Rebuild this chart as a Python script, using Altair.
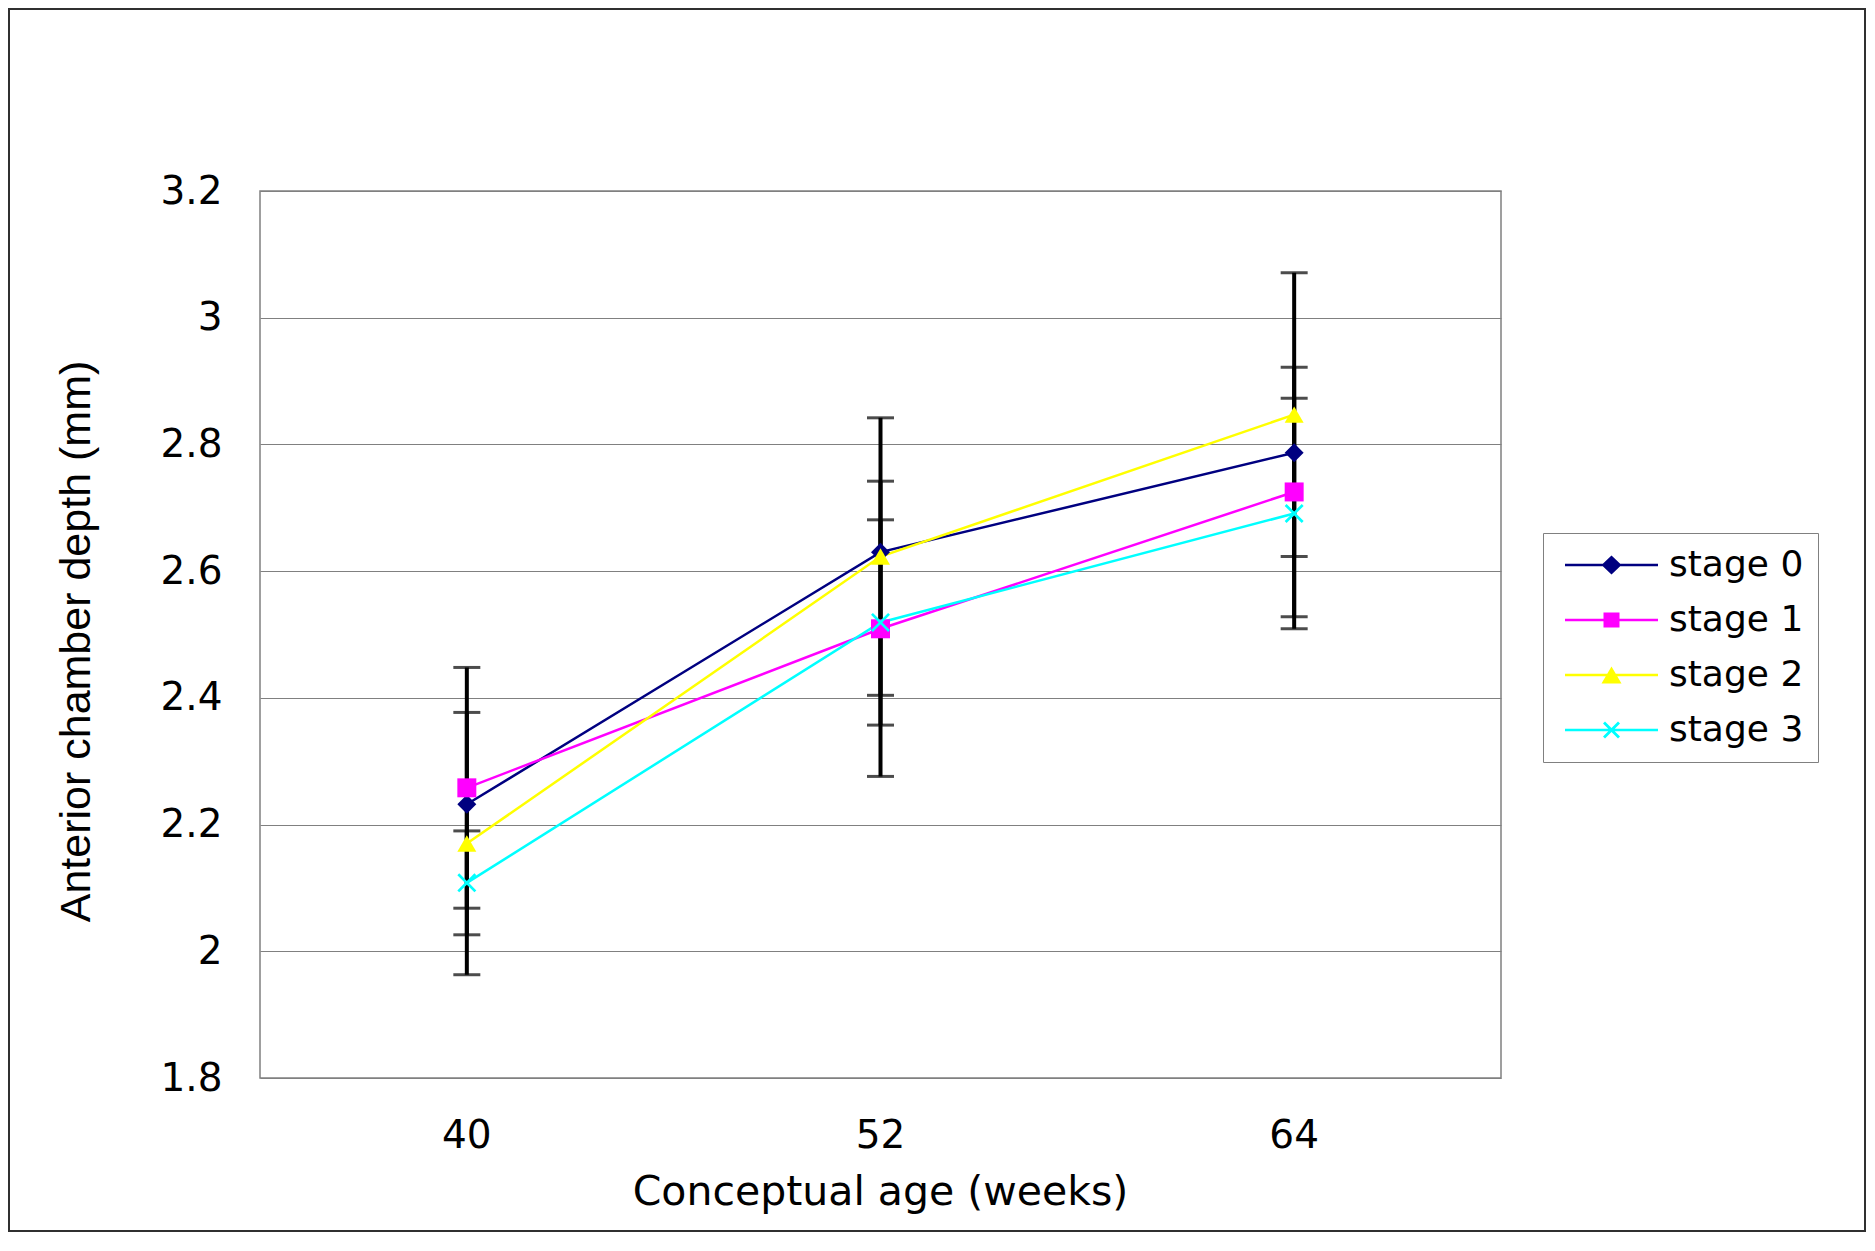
import altair as alt
import pandas as pd

# ---- data ----
ages = ["40", "52", "64"]
series = ["stage 0", "stage 1", "stage 2", "stage 3"]
colors = ["#000080", "#FF00FF", "#FFFF00", "#00FFFF"]

stage0 = [2.232, 2.630, 2.787]
stage1 = [2.258, 2.509, 2.725]
stage2 = [2.170, 2.623, 2.847]
stage3 = [2.108, 2.519, 2.691]

# symmetric error bar half-widths (stage 0 shows none)
err1 = [0.190, 0.233, 0.197]
err2 = [0.207, 0.219, 0.224]
err3 = [0.082, 0.162, 0.182]

y_ticks = [1.8, 2.0, 2.2, 2.4, 2.6, 2.8, 3.0, 3.2]

# ---- build table ----
rows = []
for name, vals, errs in [
    ("stage 0", stage0, None),
    ("stage 1", stage1, err1),
    ("stage 2", stage2, err2),
    ("stage 3", stage3, err3),
]:
    for i, a in enumerate(ages):
        e = errs[i] if errs is not None else None
        rows.append({
            "series": name,
            "age": a,
            "value": vals[i],
            "lo": vals[i] - e if e is not None else None,
            "hi": vals[i] + e if e is not None else None,
        })
df = pd.DataFrame(rows)

X_PATH = ("M-1,-0.8L-0.8,-1L0,-0.2L0.8,-1L1,-0.8L0.2,0L1,0.8L0.8,1L0,0.2"
          "L-0.8,1L-1,0.8L-0.2,0Z")
marker_shapes = ["diamond", "square", "triangle-up", X_PATH]

# legend symbols: line + marker (unit = 10 px at symbolSize 400)
LINE = "M-1,-0.13H8.3V0.13H-1Z"
cx = 3.65
leg_shapes = [
    LINE + f"M{cx},-0.95L{cx+1.0},0L{cx},0.95L{cx-1.0},0Z",
    LINE + f"M{cx-0.8},-0.75H{cx+0.8}V0.75H{cx-0.8}Z",
    LINE + f"M{cx},-0.85L{cx+1.0},0.85H{cx-1.0}Z",
    LINE + (f"M{cx-0.85},-0.65L{cx-0.65},-0.85L{cx},-0.2L{cx+0.65},-0.85L{cx+0.85},-0.65"
            f"L{cx+0.2},0L{cx+0.85},0.65L{cx+0.65},0.85L{cx},0.2L{cx-0.65},0.85"
            f"L{cx-0.85},0.65L{cx-0.2},0Z"),
]

xenc = alt.X(
    "age:N",
    sort=ages,
    bandPosition=0.5,
    scale=alt.Scale(type="band", domain=ages, paddingInner=0, paddingOuter=0),
    axis=alt.Axis(
        title="Conceptual age (weeks)",
        labelAngle=0,
        labelFont="DejaVu Sans",
        labelFontSize=39,
        labelColor="black",
        labelPadding=38,
        labelBaseline="top",
        ticks=False,
        domain=False,
        grid=False,
        titleFont="DejaVu Sans",
        titleFontSize=41,
        titleFontWeight="normal",
        titleColor="black",
        titleX=620,
        titleY=114,
        titleBaseline="middle",
        titleAlign="center",
    ),
)

yscale = alt.Scale(domain=[1.8, 3.2], nice=False, zero=False)
yaxis = alt.Axis(
    title="Anterior chamber depth (mm)",
    values=y_ticks,
    format="~g",
    labelFont="DejaVu Sans",
    labelFontSize=39,
    labelColor="black",
    labelPadding=38,
    ticks=False,
    domain=False,
    grid=True,
    gridColor="#808080",
    gridWidth=1,
    titleFont="Liberation Sans",
    titleFontSize=43,
    titleFontWeight="normal",
    titleColor="black",
    titleAngle=270,
    titleX=-184,
    titleY=450,
    titleAlign="center",
    titleBaseline="middle",
)

base = alt.Chart(df)

frame = alt.Chart(pd.DataFrame({"f": [0]})).mark_rect(
    filled=False, fillOpacity=0, stroke="#303030", strokeWidth=2
).encode(
    x=alt.value(-251),
    x2=alt.value(1241 + 364),
    y=alt.value(-182),
    y2=alt.value(887 + 153),
)

lines = base.mark_line(strokeWidth=2.5).encode(
    x=xenc,
    y=alt.Y("value:Q", scale=yscale, axis=yaxis),
    color=alt.Color("series:N", scale=alt.Scale(domain=series, range=colors), legend=None),
    detail="series:N",
)

errs = base.transform_filter("isValid(datum.lo)")

err_rule = errs.mark_rule(color="black", strokeWidth=4).encode(
    x=xenc,
    y=alt.Y("lo:Q", scale=yscale),
    y2="hi:Q",
)
cap_lo = errs.mark_tick(orient="horizontal", size=27, thickness=3, color="black").encode(
    x=xenc, y=alt.Y("lo:Q", scale=yscale)
)
cap_hi = errs.mark_tick(orient="horizontal", size=27, thickness=3, color="black").encode(
    x=xenc, y=alt.Y("hi:Q", scale=yscale)
)

points = base.mark_point(filled=True, opacity=1, size=360, strokeWidth=0).encode(
    x=xenc,
    y=alt.Y("value:Q", scale=yscale),
    color=alt.Color("series:N", scale=alt.Scale(domain=series, range=colors), legend=None),
    shape=alt.Shape("series:N", scale=alt.Scale(domain=series, range=marker_shapes), legend=None),
)

legend_layer = base.transform_filter("false").mark_point(
    filled=True, opacity=1, size=400, strokeWidth=0
).encode(
    x=xenc,
    y=alt.Y("value:Q", scale=yscale),
    color=alt.Color(
        "series:N",
        scale=alt.Scale(domain=series, range=colors),
        legend=alt.Legend(
            title=None,
            orient="none",
            legendX=1283,
            legendY=342,
            direction="vertical",
            strokeColor="#808080",
            fillColor="white",
            padding=14,
            labelFont="DejaVu Sans",
            labelFontSize=36,
            labelColor="black",
            labelOffset=76,
            rowPadding=19,
            symbolSize=400,
            symbolStrokeWidth=0,
            symbolOpacity=1,
        ),
    ),
    shape=alt.Shape(
        "series:N",
        scale=alt.Scale(domain=series, range=leg_shapes),
        legend=alt.Legend(
            title=None,
            orient="none",
            legendX=1283,
            legendY=342,
        ),
    ),
)

chart = (
    alt.layer(frame, lines, err_rule, cap_lo, cap_hi, points, legend_layer)
    .resolve_scale(color="independent", shape="independent")
    .properties(
        width=1241,
        height=887,
        autosize=alt.AutoSizeParams(type="none"),
        padding={"left": 252, "top": 183, "right": 366, "bottom": 155},
        background="white",
    )
    .configure_view(stroke="#808080", strokeWidth=1.5)
)

chart.save("out.html", embed_options={"renderer": "svg", "actions": False})
